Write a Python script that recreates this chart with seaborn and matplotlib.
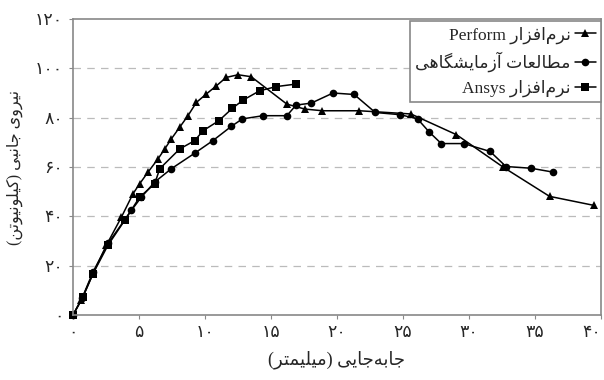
import numpy as np
import pandas as pd
import matplotlib
matplotlib.use("Agg")
import matplotlib.pyplot as plt
import seaborn as sns

# داده‌ها (خوانده شده از تصویر)
perform_x = [0, 0.63, 1.52, 2.53, 3.67, 4.55, 5.05, 5.68, 6.44, 6.95, 7.45, 8.08, 8.71,
             9.35, 10.1, 10.86, 11.6, 12.5, 13.5, 16.2, 17.55, 18.9, 21.7, 25.6, 29.05,
             32.6, 36.1, 39.5]
perform_y = [0, 6, 16.8, 28.3, 39.7, 49.2, 53.2, 57.9, 63.3, 67.3, 71.4, 76.1, 80.8,
             86.2, 89.6, 92.9, 96.3, 97.4, 96.6, 85.5, 83.5, 82.8, 82.8, 81.5, 73.1,
             59.9, 48.1, 44.4]

test_x = [0, 0.7, 1.52, 2.65, 4.42, 5.18, 6.19, 7.45, 9.22, 10.6, 12.0, 12.83, 14.4,
          16.2, 16.9, 18.05, 19.7, 21.3, 22.9, 24.8, 26.1, 27.0, 27.9, 29.6, 31.6,
          32.8, 34.7, 36.4]
test_y = [0, 7, 17.5, 29, 42.4, 47.8, 53.9, 59.3, 65.6, 70.7, 76.5, 79.5, 80.8,
          80.8, 85.1, 85.9, 90, 89.4, 82.1, 81.2, 79.5, 74.1, 69.5, 69.5, 66.3,
          60.2, 59.5, 57.9]

ansys_x = [0, 0.76, 1.52, 2.65, 3.92, 5.05, 6.19, 6.57, 8.08, 9.22, 9.85, 11.06,
           12.07, 12.88, 14.14, 15.4, 16.87]
ansys_y = [0, 7.4, 16.8, 28.3, 38.4, 47.8, 53.2, 59.3, 67.3, 70.7, 74.7, 78.8,
           83.8, 87.1, 90.9, 92.6, 93.6]

x_ticks = [0, 5, 10, 15, 20, 25, 30, 35, 40]
y_ticks = [0, 20, 40, 60, 80, 100, 120]

# شکل‌دهی ساده حروف فارسی (matplotlib متن راست‌به‌چپ را شکل نمی‌دهد)
FORMS = {
    '\u0627': ('\uFE8D', '\uFE8E', None, None),
    '\u0622': ('\uFE81', '\uFE82', None, None),
    '\u0628': ('\uFE8F', '\uFE90', '\uFE91', '\uFE92'),
    '\u062A': ('\uFE95', '\uFE96', '\uFE97', '\uFE98'),
    '\u062C': ('\uFE9D', '\uFE9E', '\uFE9F', '\uFEA0'),
    '\u0631': ('\uFEAD', '\uFEAE', None, None),
    '\u0632': ('\uFEAF', '\uFEB0', None, None),
    '\u0634': ('\uFEB5', '\uFEB6', '\uFEB7', '\uFEB8'),
    '\u0637': ('\uFEC1', '\uFEC2', '\uFEC3', '\uFEC4'),
    '\u0639': ('\uFEC9', '\uFECA', '\uFECB', '\uFECC'),
    '\u0641': ('\uFED1', '\uFED2', '\uFED3', '\uFED4'),
    '\u0644': ('\uFEDD', '\uFEDE', '\uFEDF', '\uFEE0'),
    '\u0645': ('\uFEE1', '\uFEE2', '\uFEE3', '\uFEE4'),
    '\u0646': ('\uFEE5', '\uFEE6', '\uFEE7', '\uFEE8'),
    '\u0647': ('\uFEE9', '\uFEEA', '\uFEEB', '\uFEEC'),
    '\u0648': ('\uFEED', '\uFEEE', None, None),
    '\u06CC': ('\uFBFC', '\uFBFD', '\uFBFE', '\uFBFF'),
    '\u06A9': ('\uFB8E', '\uFB8F', '\uFB90', '\uFB91'),
    '\u06AF': ('\uFB92', '\uFB93', '\uFB94', '\uFB95'),
}
MIRROR = {'(': ')', ')': '('}


def shape_fa(text):
    out = []
    for i, ch in enumerate(text):
        if ch == '\u200c':
            continue
        if ch not in FORMS:
            out.append(MIRROR.get(ch, ch))
            continue
        prev = text[i - 1] if i > 0 else ''
        nxt = text[i + 1] if i + 1 < len(text) else ''
        join_prev = prev in FORMS and FORMS[prev][2] is not None
        join_next = nxt in FORMS and FORMS[ch][2] is not None
        iso, fin, ini, med = FORMS[ch]
        if join_prev and join_next:
            out.append(med)
        elif join_prev:
            out.append(fin)
        elif join_next:
            out.append(ini)
        else:
            out.append(iso)
    return ''.join(reversed(out))


def fa_digits(n):
    return ''.join(chr(0x06F0 + int(d)) for d in str(n))


lbl_perform = 'Perform ' + shape_fa('نرم\u200cافزار')
lbl_test = shape_fa('مطالعات آزمایشگاهی')
lbl_ansys = 'Ansys ' + shape_fa('نرم\u200cافزار')
x_label = shape_fa('جابه\u200cجایی (میلیمتر)')
y_label = shape_fa('نیروی جانبی (کیلونیوتن)')

sns.set_theme(style="white")
plt.rcParams['font.family'] = ['Liberation Serif', 'DejaVu Sans']

df = pd.concat([
    pd.DataFrame({'x': perform_x, 'y': perform_y, 'series': lbl_perform}),
    pd.DataFrame({'x': test_x, 'y': test_y, 'series': lbl_test}),
    pd.DataFrame({'x': ansys_x, 'y': ansys_y, 'series': lbl_ansys}),
])

fig = plt.figure(figsize=(6.04, 3.80), dpi=100)
ax = fig.add_axes([73 / 604, 65 / 380, 528 / 604, 296 / 380])

sns.lineplot(data=df, x='x', y='y', hue='series', style='series', sort=False,
             markers={lbl_perform: '^', lbl_test: 'o', lbl_ansys: 's'},
             dashes=False, palette=['black'] * 3, markersize=5.5, linewidth=1.1,
             markeredgewidth=0, ax=ax, clip_on=False, legend=True)

ax.set_xlim(0, 40)
ax.set_ylim(0, 120)
ax.set_xticks(x_ticks)
ax.set_xticklabels([fa_digits(v) for v in x_ticks], fontsize=12.5)
ax.set_yticks(y_ticks)
ax.set_yticklabels([fa_digits(v) for v in y_ticks], fontsize=12.5)
ax.tick_params(axis='both', direction='out', length=3, width=0.8, color='#888888',
               left=True, bottom=True, pad=4)
# آخرین برچسب محور افقی کمی به چپ تا داخل تصویر بماند
ax.get_xticklabels()[-1].set_horizontalalignment('right')
ax.get_xticklabels()[-1].set_x(40)

for y in y_ticks[1:-1]:
    ax.axhline(y, color='#bbbbbb', linestyle=(0, (6, 5)), linewidth=0.9, zorder=0)

for s in ax.spines.values():
    s.set_color('#888888')
    s.set_linewidth(1.2)

ax.set_xlabel(x_label, fontsize=13, labelpad=7)
ax.set_ylabel(y_label, fontsize=11.5, labelpad=9)

leg = ax.legend(loc='upper right', bbox_to_anchor=(601 / 604, 1 - 21 / 380),
                bbox_transform=fig.transFigure, borderaxespad=0, markerfirst=False,
                fancybox=False, framealpha=1, edgecolor='#888888', fontsize=12.5,
                handlelength=1.2, handletextpad=0.25, labelspacing=0.45,
                borderpad=0.3, title=None)
leg.get_frame().set_linewidth(1.2)

fig.savefig('out.png', dpi=100)
